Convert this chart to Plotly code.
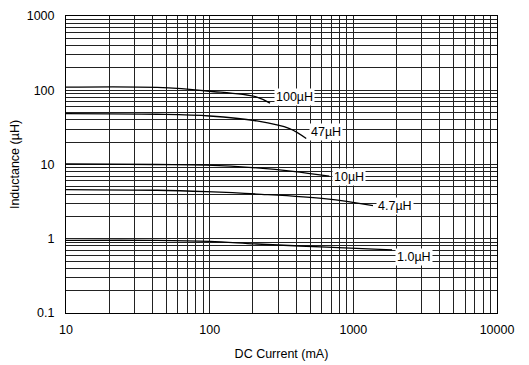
import math
import plotly.graph_objects as go

# DC bias curves (mA, uH)
cur_100 = [10, 43, 100, 213, 263]
ind_100 = [110, 109, 97, 81, 67]

cur_47 = [10, 43, 100, 213, 360, 470]
ind_47 = [48.5, 47.5, 45, 38.6, 30.5, 22.4]

cur_10 = [10, 43, 95, 213, 380, 680]
ind_10 = [10.2, 10.0, 9.8, 9.0, 8.1, 6.95]

cur_4_7 = [10, 43, 95, 213, 650, 1370]
ind_4_7 = [4.6, 4.5, 4.3, 4.0, 3.45, 2.8]

cur_1_0 = [10, 43, 100, 213, 650, 1860]
ind_1_0 = [0.95, 0.95, 0.92, 0.85, 0.77, 0.71]

labels = ['100µH', '47µH', '10µH', '4.7µH', '1.0µH']
label_x = [390, 645, 930, 1945, 2640]
label_y = [80, 27.2, 6.7, 2.8, 0.575]

font = 'Liberation Sans, Arial, sans-serif'

fig = go.Figure()
for xs, ys in [(cur_100, ind_100), (cur_47, ind_47), (cur_10, ind_10),
               (cur_4_7, ind_4_7), (cur_1_0, ind_1_0)]:
    fig.add_trace(go.Scatter(x=xs, y=ys, mode='lines',
                             line=dict(color='black', width=1.3, shape='spline'),
                             showlegend=False))

# annotations on log axes take log10 coordinates
for t, lx, ly in zip(labels, label_x, label_y):
    fig.add_annotation(x=math.log10(lx), y=math.log10(ly), xref='x', yref='y',
                       text=t, showarrow=False, bgcolor='white', borderpad=1,
                       font=dict(family=font, size=12.5, color='black'))

axis_common = dict(type='log', showline=True, linecolor='black', linewidth=1,
                   mirror=True, showgrid=True, gridcolor='#222', gridwidth=1,
                   minor=dict(showgrid=True, gridcolor='#222', gridwidth=1,
                              dtick='D1'),
                   ticks='', zeroline=False, automargin=False,
                   tickfont=dict(family=font, size=12.5, color='black'))

# page body has an 8px margin, so the figure is sized to fit inside the window
fig.update_layout(
    width=521, height=357,
    margin=dict(l=58, r=32, t=8, b=52),
    paper_bgcolor='white', plot_bgcolor='white',
    xaxis=dict(axis_common, range=[1, 4], tickvals=[10, 100, 1000, 10000],
               ticktext=['10', '100', '1000', '10000'], ticklabelstandoff=5,
               title=dict(text='DC Current (mA)', standoff=13,
                          font=dict(family=font, size=12.5, color='black'))),
    yaxis=dict(axis_common, range=[-1, 3], tickvals=[0.1, 1, 10, 100, 1000],
               ticktext=['0.1', '1', '10', '100', '1000'], ticklabelstandoff=8,
               title=dict(text='Inductance (µH)', standoff=4,
                          font=dict(family=font, size=12.5, color='black'))),
)

fig.write_html('out.html')
